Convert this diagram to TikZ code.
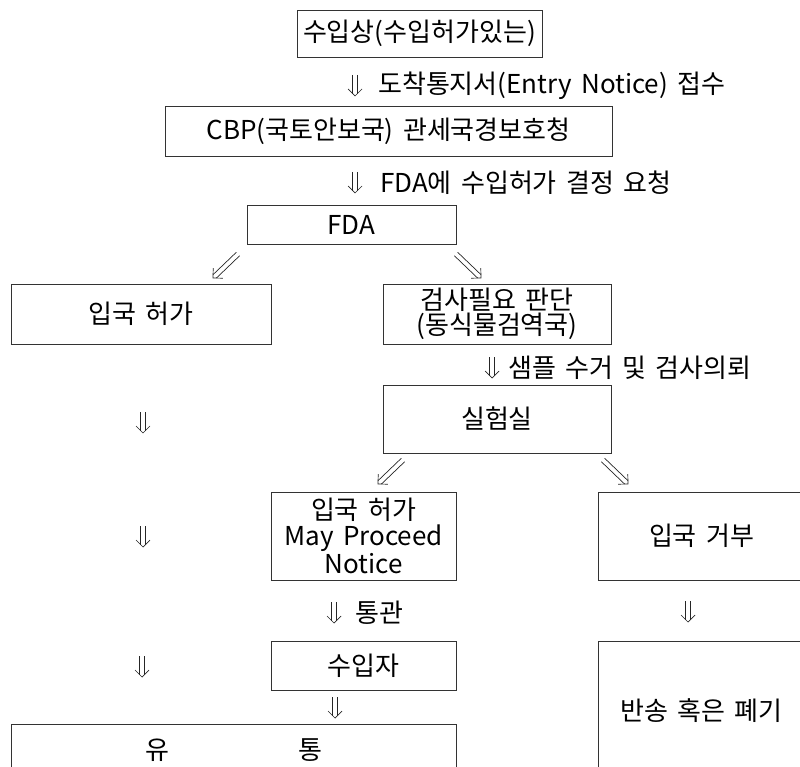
\documentclass[tikz,border=0pt]{standalone}
\usepackage{fontspec}
\setmainfont{Noto Sans CJK KR}[WordSpace=1.6]
\usetikzlibrary{calc}
\newcommand\dblarr[2]{%
  \coordinate (tmpm) at ($(#2)!2.4pt!(#1)$);
  \coordinate (tmpb) at ($(#2)!7pt!(#1)$);
  \draw[arrline] ($(#1)!2.4pt!90:(#2)$) -- ($(tmpm)!2.4pt!-90:(#1)$);
  \draw[arrline] ($(#1)!2.4pt!-90:(#2)$) -- ($(tmpm)!2.4pt!90:(#1)$);
  \draw[arrline] ($(tmpb)!7pt!90:(#2)$) -- (#2) -- ($(tmpb)!7pt!-90:(#2)$);
}
\begin{document}
\begin{tikzpicture}[x=1pt,y=-1pt,
  box/.style={draw=black!80, line width=0.8pt, inner sep=0pt, align=center,
    font=\fontsize{26}{26}\selectfont},
  lbl/.style={anchor=west, inner sep=0pt, font=\fontsize{26}{26}\selectfont},
  arrline/.style={draw=black!85, line width=0.7pt, line join=miter},
]
\useasboundingbox (0,0) rectangle (800,767);
\clip (0,0) rectangle (800,767);
% boxes
\node[box, minimum width=245, minimum height=47] (b1) at (419.5,33.5) {수입상(수입허가있는)};
\node[box, minimum width=447, minimum height=50] (b2) at (388.5,131) {CBP(국토안보국) 관세국경보호청};
\node[box, minimum width=209, minimum height=39] (b3) at (351.5,224.5) {FDA};
\node[box, minimum width=260, minimum height=60] (b4) at (141,314) {입국 허가};
\node[box, minimum width=228, minimum height=60, font=\fontsize{26}{23}\selectfont] (b5) at (497,314) {검사필요 판단\\(동식물검역국)};
\node[box, minimum width=228, minimum height=68] (b6) at (497,419) {실험실};
\node[box, minimum width=185, minimum height=88, font=\fontsize{26}{26}\selectfont] (b7) at (363.5,536) {입국 허가\\May Proceed\\Notice};
\node[box, minimum width=207, minimum height=88] (b8) at (701.5,536) {입국 거부};
\node[box, minimum width=185, minimum height=49] (b9) at (363.5,665.5) {수입자};
\node[box, minimum width=445, minimum height=52] (b10) at (233.5,750) {유\hspace{129pt}통};
\node[box, minimum width=207, minimum height=139] (b11) at (701.5,710.5) {반송 혹은 폐기};
% labels beside the arrows
\node[lbl] (l1) at (378,86) {도착통지서(Entry Notice) 접수};
\node[lbl] (l2) at (380,183) {FDA에 수입허가 결정 요청};
\node[lbl] (l3) at (508,368) {샘플 수거 및 검사의뢰};
\node[lbl] (l4) at (355,613) {통관};
% arrow end points
\coordinate (a1s) at (355,75);  \coordinate (a1e) at (355,96);
\coordinate (a2s) at (355,172); \coordinate (a2e) at (355,193);
\coordinate (a3s) at (492,357); \coordinate (a3e) at (492,378);
\coordinate (a4s) at (334,602); \coordinate (a4e) at (334,623);
\coordinate (a5s) at (335,697); \coordinate (a5e) at (335,718);
\coordinate (r1s) at (688,601); \coordinate (r1e) at (688,622);
\coordinate (L1s) at (143,412); \coordinate (L1e) at (143,433);
\coordinate (L2s) at (143,526); \coordinate (L2e) at (143,547);
\coordinate (L3s) at (142,656); \coordinate (L3e) at (142,677);
\coordinate (d1s) at (238,254); \coordinate (d1e) at (213,278);
\coordinate (d2s) at (456,254); \coordinate (d2e) at (481,278);
\coordinate (d3s) at (403,460); \coordinate (d3e) at (378,484);
\coordinate (d4s) at (603,460); \coordinate (d4e) at (628,484);
% double arrows
\dblarr{a1s}{a1e}
\dblarr{a2s}{a2e}
\dblarr{a3s}{a3e}
\dblarr{a4s}{a4e}
\dblarr{a5s}{a5e}
\dblarr{r1s}{r1e}
\dblarr{L1s}{L1e}
\dblarr{L2s}{L2e}
\dblarr{L3s}{L3e}
\dblarr{d1s}{d1e}
\dblarr{d2s}{d2e}
\dblarr{d3s}{d3e}
\dblarr{d4s}{d4e}
\end{tikzpicture}
\end{document}
